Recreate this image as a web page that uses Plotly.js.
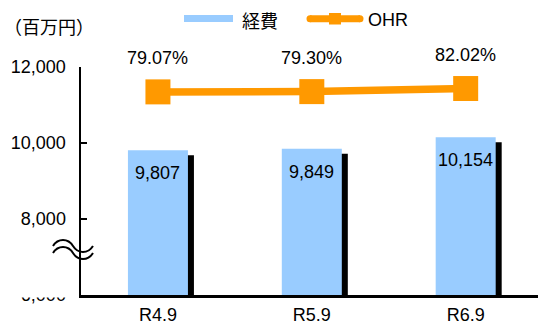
<!DOCTYPE html>
<html>
<head>
<meta charset="utf-8">
<script src="https://cdn.plot.ly/plotly-3.0.1.min.js"></script>
<style>
  html, body { margin: 0; padding: 0; background: #fff; }
  #chart { width: 538px; height: 328px; }
</style>
</head>
<body>
<div id="chart"></div>
<script>
// Half-year periods
const periods = ['R4.9', 'R5.9', 'R6.9'];
// Expenses (million yen)
const expenses = [9807, 9849, 10154];
// OHR (%)
const ohr = [79.07, 79.30, 82.02];
// Left axis ticks
const yTicks = [6000, 8000, 10000, 12000];

const LATIN = 'Liberation Sans, Arial, sans-serif';
const CJK = 'Noto Sans CJK JP, sans-serif';
const CJK_UNIT = 'Noto Sans CJK SC, Noto Sans CJK JP, sans-serif';
const BLUE = '#99CCFF';
const ORANGE = '#FF9900';

// Plot area in pixels (used to place the hand-drawn legend and axis break)
const L = 81, T = 67, W = 457, H = 228;
const px = x => (x - L) / W;
const py = y => (T + H - y) / H;

const yMin = 6000, yMax = 12000;
const unitsPerPx = (yMax - yMin) / H;
const barWidth = 0.39;
const bandPx = W / 2.97;
const shadowDx = 6 / bandPx;        // shadow shift to the right, category units
const shadowDy = 5 * unitsPerPx;    // shadow shift downward, data units

const fmt = v => v.toLocaleString('en-US');

const shadow = {
  type: 'bar', x: periods, y: expenses.map(v => v - shadowDy - yMin), base: yMin,
  width: barWidth, offset: -barWidth / 2 + shadowDx,
  marker: { color: '#000', line: { width: 0 } },
  hoverinfo: 'skip', showlegend: false
};
const bars = {
  type: 'bar', name: '経費', x: periods, y: expenses.map(v => v - yMin), base: yMin,
  width: barWidth, offset: -barWidth / 2,
  marker: { color: BLUE, line: { width: 0 } },
  showlegend: false
};
const line = {
  type: 'scatter', mode: 'lines+markers', name: 'OHR', x: periods, y: ohr, yaxis: 'y2',
  line: { color: ORANGE, width: 7.5 },
  marker: { symbol: 'square', size: 25, color: ORANGE, line: { width: 0 } },
  cliponaxis: false, showlegend: false
};

const annotations = [];
periods.forEach((p, i) => {
  annotations.push({
    x: p, y: expenses[i], xref: 'x', yref: 'y', text: fmt(expenses[i]),
    showarrow: false, yanchor: 'middle', yshift: -23,
    font: { family: LATIN, size: 18, color: '#000' }
  });
  annotations.push({
    x: p, y: ohr[i], xref: 'x', yref: 'y2', text: ohr[i].toFixed(2) + '%',
    showarrow: false, yanchor: 'middle', yshift: 34,
    font: { family: LATIN, size: 18, color: '#000' }
  });
});
// legend labels
annotations.push({ x: px(240), y: py(20), xref: 'paper', yref: 'paper', text: '経費',
  xanchor: 'left', yanchor: 'middle', showarrow: false,
  font: { family: CJK, size: 18, color: '#000' } });
annotations.push({ x: px(366), y: py(20), xref: 'paper', yref: 'paper', text: 'OHR',
  xanchor: 'left', yanchor: 'middle', showarrow: false,
  font: { family: LATIN, size: 18, color: '#000' } });

// axis-break wave in pixel space
function wave(dy) {
  const pts = [[53, 246], [58, 238], [68, 238], [73, 246], [78, 254], [88, 254], [93, 246]]
    .map(([x, y]) => px(x) + ',' + py(y + dy));
  return 'M' + pts[0] + ' C' + pts[1] + ' ' + pts[2] + ' ' + pts[3] + ' C' + pts[4] + ' ' + pts[5] + ' ' + pts[6];
}

const shapes = [
  // mask over the lowest tick label
  { type: 'rect', xref: 'paper', yref: 'paper', x0: px(0), x1: px(76), y0: py(280), y1: py(297.5),
    fillcolor: '#fff', line: { width: 0 }, layer: 'above' },
  { type: 'path', xref: 'paper', yref: 'paper', path: wave(0), line: { color: '#000', width: 2 }, layer: 'above' },
  { type: 'path', xref: 'paper', yref: 'paper', path: wave(7), line: { color: '#000', width: 2 }, layer: 'above' },
  // legend swatches
  { type: 'line', xref: 'paper', yref: 'paper', x0: px(184), x1: px(233), y0: py(18.5), y1: py(18.5),
    line: { color: BLUE, width: 7 }, layer: 'above' },
  { type: 'line', xref: 'paper', yref: 'paper', x0: px(310), x1: px(360), y0: py(18.7), y1: py(18.7),
    line: { color: ORANGE, width: 7 }, layer: 'above' },
  { type: 'circle', xref: 'paper', yref: 'paper', x0: px(306.5), x1: px(313.5), y0: py(15.2), y1: py(22.2),
    fillcolor: ORANGE, line: { width: 0 }, layer: 'above' },
  { type: 'circle', xref: 'paper', yref: 'paper', x0: px(356.5), x1: px(363.5), y0: py(15.2), y1: py(22.2),
    fillcolor: ORANGE, line: { width: 0 }, layer: 'above' },
  { type: 'rect', xref: 'paper', yref: 'paper', x0: px(329), x1: px(341), y0: py(13), y1: py(24.5),
    fillcolor: ORANGE, line: { width: 0 }, layer: 'above' }
];

const layout = {
  width: 538, height: 328,
  margin: { l: L, r: 538 - L - W, t: T, b: 328 - T - H, pad: 0 },
  paper_bgcolor: '#fff', plot_bgcolor: '#fff',
  barmode: 'overlay',
  showlegend: false,
  font: { family: LATIN, size: 18, color: '#000' },
  title: {
    text: '（百万円）', xref: 'container', yref: 'container',
    x: 4 / 538, xanchor: 'left', y: 1 - 28 / 328, yanchor: 'middle',
    font: { family: CJK_UNIT, size: 18, color: '#000' }
  },
  xaxis: {
    type: 'category', range: [-0.5, 2.47], showgrid: false, zeroline: false,
    showline: true, linecolor: '#000', linewidth: 2.5, ticks: '', ticklabelstandoff: 2,
    tickfont: { family: LATIN, size: 18, color: '#000' }, fixedrange: true
  },
  yaxis: {
    range: [yMin, yMax], tickvals: yTicks, ticktext: yTicks.map(fmt),
    showgrid: false, zeroline: false, showline: true, linecolor: '#000', linewidth: 2.5,
    ticks: 'inside', ticklen: 6, tickwidth: 2.5, tickcolor: '#000', ticklabelstandoff: 9,
    tickfont: { family: LATIN, size: 18, color: '#000' }, fixedrange: true
  },
  yaxis2: {
    overlaying: 'y', side: 'right', range: [-100, 101], visible: false, fixedrange: true
  },
  annotations: annotations,
  shapes: shapes
};

Plotly.newPlot('chart', [shadow, bars, line], layout, { displayModeBar: false, staticPlot: true });
</script>
</body>
</html>
